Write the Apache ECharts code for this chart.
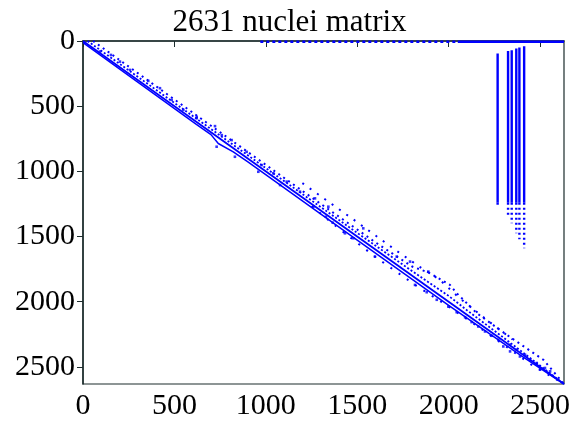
<!DOCTYPE html>
<html>
<head>
<meta charset="utf-8">
<script src="https://cdn.jsdelivr.net/npm/echarts@6/dist/echarts.min.js"></script>
<style>
  html, body { margin: 0; padding: 0; background: #fff; }
  #main { width: 579px; height: 423px; }
</style>
</head>
<body>
<div id="main"></div>
<script>
var N = 2631;
var tickValues = [0, 500, 1000, 1500, 2000, 2500];

// main diagonal and the bands close to it, [col, row]
var mainDiag = [[0, 0], [2631, 2631]];
var nearBand = [[0, 12], [620, 640], [700, 718], [740, 786], [822, 850], [900, 925], [1500, 1528], [2000, 2028], [2400, 2418], [2631, 2631]];
var upperBand1 = [[25, 0], [1000, 975], [1500, 1472], [1790, 1755], [1900, 1860], [2000, 1955], [2100, 2065], [2300, 2275], [2631, 2631]];
var upperBand2 = [[55, 0], [700, 650], [1200, 1150], [1600, 1545], [1800, 1730], [1890, 1776], [2007, 1871], [2044, 1934], [2153, 2087], [2317, 2253], [2518, 2445], [2631, 2631]];
var upperBand3 = [[1200, 1090], [1500, 1390], [1716, 1610], [1850, 1740], [1950, 1830], [2050, 1960], [2200, 2130], [2350, 2290]];
var lowerBand = [[1250, 1268], [1433, 1475], [1597, 1654], [1816, 1871], [2000, 2037], [2199, 2228], [2450, 2480], [2631, 2631]];

// first row: sparse part then dense part
var topRowSparse = [[970, 6], [2050, 6]];
var topRowDense = [[2050, 6], [2631, 6]];

// dense columns in the upper right
var colX = [2268, 2325, 2345, 2370, 2387, 2413];
var colTop = [96, 76, 71, 58, 50, 41];
var colSolidEnd = [1240, 1240, 1240, 1240, 1240, 1240];
var colEnd = [1275, 1348, 1398, 1475, 1521, 1590];

// scattered entries off the bands
var scatterPts = [
  [93, 81], [153, 107], [202, 158], [257, 222], [357, 306], [421, 362], [485, 452], [549, 528], [622, 592],
  [622, 582], [722, 653], [759, 722], [813, 760], [895, 850], [977, 952], [1041, 1015], [1114, 1079],
  [1187, 1156], [1269, 1207], [1342, 1271], [1533, 1437], [1716, 1654], [1789, 1692], [1889, 1769],
  [731, 811], [831, 888], [959, 1003], [1078, 1105], [1260, 1271], [1329, 1348], [1366, 1394],
  [1433, 1475], [1479, 1513], [1597, 1654], [1816, 1871], [1880, 1927], [1935, 1985], [1998, 2037],
  [2044, 2080], [2090, 2118], [2126, 2156], [2162, 2190], [2199, 2228], [2236, 2261], [2272, 2292],
  [2299, 2343], [2336, 2330], [2336, 2381], [2372, 2368], [2390, 2420], [2418, 2407], [2445, 2445],
  [2482, 2470], [2500, 2521], [2527, 2508], [2555, 2534]
];

var blue = '#0000ff';
var axisColor = '#1c2c2c';
var serif = 'Liberation Serif';

function lineSeries(data, width, type) {
  return {
    type: 'line',
    data: data,
    showSymbol: false,
    silent: true,
    lineStyle: { color: blue, width: width, type: type || 'solid' }
  };
}

var series = [
  lineSeries(mainDiag, 1.8),
  lineSeries(nearBand, 1.5),
  lineSeries(upperBand1, 1.8, [2, 2]),
  lineSeries(upperBand2, 2, [2, 4]),
  lineSeries(upperBand3, 2, [2, 7]),
  lineSeries(lowerBand, 2, [2, 8]),
  lineSeries(topRowSparse, 2.5, [3, 3]),
  lineSeries(topRowDense, 2.5)
];

for (var i = 0; i < colX.length; i++) {
  series.push(lineSeries([[colX[i], colTop[i]], [colX[i], colSolidEnd[i]]], 2.4));
  series.push(lineSeries([[colX[i], colSolidEnd[i]], [colX[i], colEnd[i]]], 2.4, [2, 3]));
}

series.push({
  type: 'scatter',
  data: scatterPts,
  symbol: 'rect',
  symbolSize: 2.6,
  silent: true,
  itemStyle: { color: blue }
});

function plainLabel(v) {
  return String(v);
}

var myChart = echarts.init(document.getElementById('main'));
myChart.setOption({
  backgroundColor: 'white',
  animation: false,
  title: {
    text: '2631 nuclei matrix',
    left: 'center',
    top: 2,
    textStyle: { fontFamily: serif, fontSize: 31, fontWeight: 'normal', color: '#000' }
  },
  grid: {
    left: 83, right: 15, top: 41, bottom: 39,
    show: true,
    borderColor: axisColor,
    borderWidth: 1.2,
    backgroundColor: 'transparent'
  },
  xAxis: {
    type: 'value',
    min: 0,
    max: N,
    splitLine: { show: false },
    axisLine: { show: true, lineStyle: { color: axisColor, width: 1.5 } },
    axisTick: { show: true, length: 6, customValues: tickValues, lineStyle: { color: axisColor } },
    axisLabel: {
      customValues: tickValues,
      formatter: plainLabel,
      margin: 7,
      fontFamily: serif, fontSize: 30, color: '#000'
    }
  },
  yAxis: {
    type: 'value',
    inverse: true,
    min: 0,
    max: N,
    splitLine: { show: false },
    axisLine: { show: true, lineStyle: { color: axisColor, width: 1.5 } },
    axisTick: { show: true, length: 6, customValues: tickValues, lineStyle: { color: axisColor } },
    axisLabel: {
      customValues: tickValues,
      formatter: plainLabel,
      margin: 8,
      fontFamily: serif, fontSize: 30, color: '#000'
    }
  },
  series: series
});
window.addEventListener('resize', function () {
  myChart.resize();
});
</script>
</body>
</html>
